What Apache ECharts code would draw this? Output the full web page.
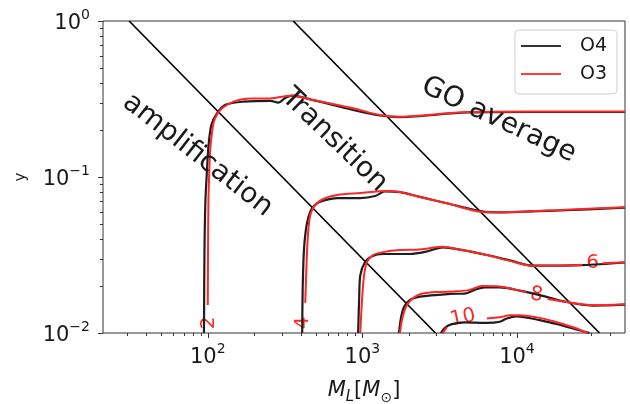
<!DOCTYPE html>
<html><head><meta charset="utf-8">
<script src="https://cdn.jsdelivr.net/npm/echarts@6/dist/echarts.min.js"></script>
<style>html,body{margin:0;padding:0;background:#fff}#c{width:630px;height:404px}</style>
</head><body><div id="c"></div>
<script>
// ---- axis ranges & ticks ----
const xMin = 21, xMax = 50000, yMin = 0.01, yMax = 1;
const xMajorTicks = [100, 1000, 10000];
const xMinorTicks = [30,40,50,60,70,80,90,200,300,400,500,600,700,800,900,2000,3000,4000,5000,6000,7000,8000,9000,20000,30000,40000];
const yMajorTicks = [0.01, 0.1, 1];
const yMinorTicks = [0.02,0.03,0.04,0.05,0.06,0.07,0.08,0.09,0.2,0.3,0.4,0.5,0.6,0.7,0.8,0.9];

// ---- boundary lines ----
const boundary1 = [[31, 1], [2970, 0.01]];
const boundary2 = [[357, 1], [34200, 0.01]];

// ---- O4 contours (black) ----
const O4_c2 = [[94.5,0.01],[95.2,0.034],[96.6,0.0712],[99.1,0.116],[101,0.157],[105.6,0.216],[115,0.257],[130,0.290],[170,0.304],[254,0.308],[286,0.300],[317,0.321],[352,0.332],[481,0.311],[871,0.269],[1300,0.248],[1751,0.242],[4740,0.259],[12090,0.261],[50000,0.261]];
const O4_c4 = [[408,0.01],[411,0.0189],[419,0.034],[436,0.0492],[462,0.0606],[496,0.0666],[558,0.0706],[687,0.0733],[967,0.0733],[1208,0.0755],[1400,0.0809],[1751,0.080],[2357,0.0745],[3683,0.0671],[5924,0.0602],[7738,0.0594],[18870,0.061],[50000,0.0636]];
const O4_c6 = [[939,0.01],[953,0.0163],[970,0.0235],[1041,0.0285],[1155,0.0311],[1360,0.0321],[2031,0.0321],[2542,0.0331],[3321,0.0354],[4271,0.0342],[6383,0.0316],[8985,0.0292],[12650,0.027],[26560,0.0272],[50000,0.0283]];
const O4_c8 = [[1725,0.01],[1777,0.0125],[1859,0.0147],[2031,0.0163],[2357,0.0171],[3683,0.0178],[4600,0.0179],[5333,0.0189],[6192,0.0196],[7738,0.0196],[10420,0.0187],[14030,0.0175],[20950,0.0158],[30810,0.015],[50000,0.0152]];
const O4_c10 = [[3222,0.01],[3418,0.0108],[3795,0.0114],[4600,0.0117],[6383,0.0116],[7738,0.0118],[8590,0.0124],[9960,0.0128],[14030,0.0121],[18870,0.0113],[23580,0.0106],[29450,0.01]];

// ---- O3 contours (red), split where inline labels sit ----
const O3_c2 = [[100,0.0151],[100.4,0.034],[101,0.0712],[102.6,0.119],[104,0.156],[108.9,0.222],[115.5,0.254],[124.4,0.277],[146.6,0.304],[188.6,0.319],[254,0.319],[342,0.332],[481,0.312],[871,0.276],[1300,0.2496],[1751,0.2435],[4740,0.261],[12090,0.263],[50000,0.263]];
const O3_c4 = [[427,0.0156],[432,0.0219],[439,0.034],[450,0.0492],[467,0.0597],[502,0.0671],[558,0.0723],[687,0.0767],[967,0.0789],[1443,0.0813],[1751,0.0801],[2357,0.0745],[3683,0.0671],[5924,0.0597],[7738,0.0594],[18870,0.0614],[50000,0.064]];
const O3_c6a = [[970,0.01],[995,0.0163],[1026,0.0235],[1070,0.0285],[1172,0.0316],[1360,0.0330],[1751,0.034],[2357,0.0343],[3321,0.0357],[4271,0.0342],[6383,0.0316],[8985,0.029],[12650,0.027],[17500,0.027],[26560,0.0274]];
const O3_c6b = [[35700,0.028],[50000,0.0284]];
const O3_c8a = [[1751,0.01],[1803,0.0121],[1915,0.0147],[2093,0.0165],[2357,0.0177],[2946,0.0183],[4087,0.0185],[4958,0.0189],[5924,0.0200],[7738,0.0199],[9960,0.0189],[11560,0.0182]];
const O3_c8b = [[15770,0.0165],[20950,0.0158],[30810,0.0151],[50000,0.0153]];
const O3_c10a = [[3321,0.01],[3518,0.0109]];
const O3_c10b = [[6383,0.0124],[7738,0.0126],[8985,0.013],[10420,0.013],[14030,0.0125],[18870,0.0116],[23580,0.0108],[28600,0.01]];

// ---- contour labels ----
const levelTexts = ['2','4','6','8','10'];
const levelX = [101, 414, 30810, 13400, 4467];
const levelY = [0.0116, 0.0116, 0.0281, 0.0175, 0.0125];
const levelRot = [90, 90, 0, -8, 12];

// ---- region annotations ----
const annotTexts = ['amplification', 'Transition', 'GO average'];
const annotX = [86, 660, 7627];
const annotY = [0.138, 0.172, 0.232];
const annotRot = [-38, -44, -25];

const BLACK = '#1e1e1e', RED = '#ff2626', FONT = 'DejaVu Sans';

function lineS(name, data, color, width, smooth) {
  return {type:'line', name, data, symbol:'none', showSymbol:false, smooth: smooth,
    lineStyle:{color, width}, itemStyle:{color}, silent:true, animation:false};
}
function sup(e){ return (e<0 ? '\u2212' + (-e) : '' + e); }
function logFmt(v){
  const e = Math.log10(v), r = Math.round(e);
  if (Math.abs(e - r) > 1e-6) return '';
  return '{b|10}{s|' + sup(r) + '}';
}
const tickRich = {
  b:{fontSize:21, fontFamily:FONT, color:'#1a1a1a', lineHeight:26, verticalAlign:'bottom'},
  s:{fontSize:14, fontFamily:FONT, color:'#1a1a1a', lineHeight:14, verticalAlign:'top'}
};

const tickData = []
  .concat(xMajorTicks.map(v => [v, yMin, 5, 0]))
  .concat(xMinorTicks.map(v => [v, yMin, 3, 0]))
  .concat(yMajorTicks.map(v => [xMin, v, 5, 1]))
  .concat(yMinorTicks.map(v => [xMin, v, 3, 1]));

const series = [
  lineS('bound1', boundary1, '#000', 1.7, false),
  lineS('bound2', boundary2, '#000', 1.7, false),
  lineS('O4', O4_c2, BLACK, 2.2, 0.3),
  lineS('O4', O4_c4, BLACK, 2.2, 0.3),
  lineS('O4', O4_c6, BLACK, 2.2, 0.3),
  lineS('O4', O4_c8, BLACK, 2.2, 0.3),
  lineS('O4', O4_c10, BLACK, 2.2, 0.3),
  lineS('O3', O3_c2, RED, 2, 0.3),
  lineS('O3', O3_c4, RED, 2, 0.3),
  lineS('O3', O3_c6a, RED, 2, 0.3),
  lineS('O3', O3_c6b, RED, 2, 0.3),
  lineS('O3', O3_c8a, RED, 2, 0.3),
  lineS('O3', O3_c8b, RED, 2, 0.3),
  lineS('O3', O3_c10a, RED, 2, 0.3),
  lineS('O3', O3_c10b, RED, 2, 0.3),
  {
    type:'custom', name:'ticks', silent:true, animation:false, clip:false,
    encode:{x:0, y:1}, data: tickData,
    renderItem(params, api){
      const p = api.coord([api.value(0), api.value(1)]);
      const len = api.value(2), o = api.value(3);
      let shape;
      if (o === 0) { const x = Math.round(p[0]) + 0.5; shape = {x1:x, y1:p[1], x2:x, y2:p[1] + len}; }
      else { const y = Math.round(p[1]) + 0.5; shape = {x1:p[0] - len, y1:y, x2:p[0], y2:y}; }
      return {type:'line', shape, style:{stroke:'#333', lineWidth:1}};
    }
  },
  {
    type:'custom', name:'levels', silent:true, animation:false, clip:false,
    encode:{x:0, y:1}, data: levelX.map((x, i) => [x, levelY[i]]),
    renderItem(params, api){
      const i = params.dataIndex;
      const p = api.coord([api.value(0), api.value(1)]);
      return {type:'text', x:p[0], y:p[1], rotation: levelRot[i] * Math.PI / 180,
        style:{text: levelTexts[i], fill: RED, font: '20px "DejaVu Sans"', align:'center', verticalAlign:'middle'}};
    }
  },
  {
    type:'custom', name:'annot', silent:true, animation:false, clip:false, z:5,
    encode:{x:0, y:1}, data: annotX.map((x, i) => [x, annotY[i]]),
    renderItem(params, api){
      const i = params.dataIndex;
      const p = api.coord([api.value(0), api.value(1)]);
      return {type:'text', x:p[0], y:p[1], rotation: annotRot[i] * Math.PI / 180,
        style:{text: annotTexts[i], fill:'#1a1a1a', font: '28px "DejaVu Sans"', align:'center', verticalAlign:'middle'}};
    }
  }
];

const chart = echarts.init(document.getElementById('c'), null, {renderer:'canvas'});
chart.setOption({
  animation:false,
  backgroundColor:'#fff',
  grid:{left:103, right:5, top:21, bottom:71, show:true, borderColor:'#333', borderWidth:1, containLabel:false, outerBoundsMode:'none'},
  legend:{
    data:[{name:'O4', icon:'rect', itemStyle:{color:'#333'}}, {name:'O3', icon:'rect', itemStyle:{color:'#ff3b3b'}}],
    orient:'vertical', right:13, top:30,
    itemWidth:40, itemHeight:2, itemGap:0,
    padding:[2, 10, 6, 6],
    borderColor:'#d0d0d0', borderWidth:1, borderRadius:4, backgroundColor:'rgba(255,255,255,0.8)',
    textStyle:{fontSize:19, fontFamily:FONT, color:'#1a1a1a', lineHeight:28, padding:[0,0,0,14]},
    selectedMode:false
  },
  xAxis:{
    type:'log', logBase:10, min:xMin, max:xMax,
    axisLine:{show:false}, axisTick:{show:false}, splitLine:{show:false}, minorTick:{show:false},
    axisLabel:{margin:9, formatter: logFmt, rich: tickRich, showMinLabel:false, showMaxLabel:false},
    name:'{i|M}{sl|L}{n|[}{i|M}{so|\u2299}{n|]}', nameLocation:'middle', nameGap:44,
    nameTextStyle:{rich:{
      i:{fontSize:21, fontStyle:'italic', fontFamily:FONT, color:'#1a1a1a', lineHeight:28},
      n:{fontSize:21, fontFamily:FONT, color:'#1a1a1a', lineHeight:28},
      sl:{fontSize:15, fontStyle:'italic', fontFamily:FONT, color:'#1a1a1a', verticalAlign:'bottom', lineHeight:15},
      so:{fontSize:14, fontFamily:FONT, color:'#1a1a1a', verticalAlign:'bottom', lineHeight:15}
    }}
  },
  yAxis:{
    type:'log', logBase:10, min:yMin, max:yMax,
    axisLine:{show:false}, axisTick:{show:false}, splitLine:{show:false}, minorTick:{show:false},
    axisLabel:{margin:13, formatter: logFmt, rich: tickRich},
    name:'y', nameLocation:'middle', nameGap:74, nameRotate:90,
    nameTextStyle:{fontSize:15, fontFamily:FONT, color:'#1a1a1a'}
  },
  series
});
</script></body></html>
